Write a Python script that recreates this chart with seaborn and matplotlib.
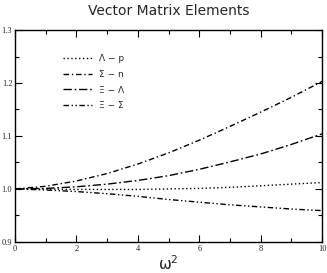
import numpy as np
import pandas as pd
import matplotlib
matplotlib.use("Agg")
import matplotlib.pyplot as plt
from matplotlib.ticker import MultipleLocator
import seaborn as sns

omega2 = [0, 1, 2, 3, 4, 5, 6, 7, 8, 9, 10]
lambda_p = [1.000, 1.000, 0.999, 0.999, 0.999, 1.000, 1.001, 1.003, 1.006, 1.009, 1.012]
sigma_n = [1.000, 1.005, 1.015, 1.029, 1.047, 1.068, 1.092, 1.118, 1.145, 1.173, 1.203]
xi_lambda = [1.000, 1.001, 1.004, 1.009, 1.016, 1.025, 1.037, 1.051, 1.066, 1.084, 1.104]
xi_sigma = [1.000, 0.998, 0.995, 0.991, 0.986, 0.980, 0.975, 0.970, 0.966, 0.962, 0.959]

labels = ["\u039b \u2212 p", "\u03a3 \u2212 n", "\u039e \u2212 \u039b", "\u039e \u2212 \u03a3"]
series = [lambda_p, sigma_n, xi_lambda, xi_sigma]

df = pd.concat([pd.DataFrame({"w2": omega2, "val": s, "pair": lab})
                for lab, s in zip(labels, series)], ignore_index=True)

sns.set_style("white")
plt.rcParams['font.family'] = ['DejaVu Sans']

fig = plt.figure(figsize=(3.27, 2.73), dpi=100)
ax = fig.add_axes([0.046, 0.114, 0.939, 0.776])

dash_map = {
    labels[0]: (1, 1.8),
    labels[1]: (4, 2, 1, 2),
    labels[2]: (6, 2, 1.2, 2),
    labels[3]: (4, 1.8, 1, 1.8, 1, 1.8),
}
sns.lineplot(data=df, x="w2", y="val", style="pair", dashes=dash_map,
             color="black", linewidth=1.0, ax=ax)

ax.set_xlim(0, 10)
ax.set_ylim(0.9, 1.3)
ax.xaxis.set_major_locator(MultipleLocator(2))
ax.xaxis.set_minor_locator(MultipleLocator(1))
ax.yaxis.set_major_locator(MultipleLocator(0.1))
ax.yaxis.set_minor_locator(MultipleLocator(0.05))
ax.tick_params(which="both", direction="in", top=True, right=True,
               bottom=True, left=True, width=0.8, color="black")
ax.tick_params(which="major", length=5, pad=2)
ax.tick_params(which="minor", length=3)
ax.set_xticklabels([f"{v:g}" for v in ax.get_xticks()])
ax.set_yticklabels([f"{v:.1f}" for v in ax.get_yticks()])
for lab in ax.get_xticklabels() + ax.get_yticklabels():
    lab.set_fontfamily("Liberation Serif")
    lab.set_fontsize(6)

for sp in ax.spines.values():
    sp.set_color("black")
    sp.set_linewidth(1.0)

ax.set_xlabel(r"$\mathregular{\omega^2}$", fontsize=11, labelpad=1)
ax.set_ylabel("")
ax.set_title("Vector Matrix Elements", fontsize=10, pad=11)

handles, labs = ax.get_legend_handles_labels()
ax.legend(handles, labs, loc="upper left", bbox_to_anchor=(0.13, 0.925),
          frameon=False, fontsize=6.5, handlelength=3.2, labelspacing=0.75,
          handletextpad=0.8)

fig.savefig("out.png", dpi=100)
